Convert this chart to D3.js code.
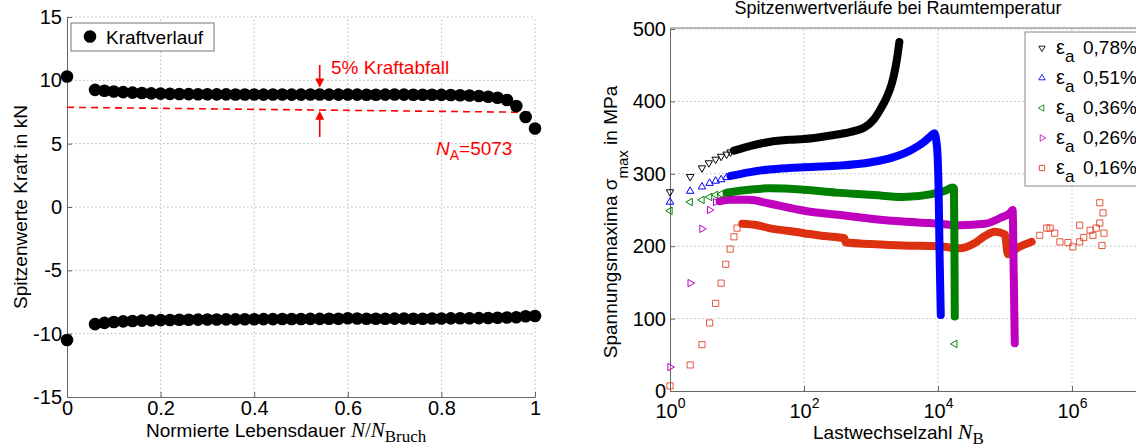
<!DOCTYPE html>
<html>
<head>
<meta charset="utf-8">
<script src="https://cdn.jsdelivr.net/npm/d3@7"></script>
<style>
  body { margin: 0; background: #fff; }
  svg { display: block; font-family: "Liberation Sans", Arial, sans-serif; }
  .axis path, .axis line { stroke: #666; }
  .axis text { font-size: 20px; fill: #000; font-family: "Liberation Sans", Arial, sans-serif; }
  .grid line { stroke: #b8b8b8; stroke-dasharray: 1.5,2.5; }
</style>
</head>
<body>
<div id="chart"></div>
<script>
// Left: peak forces over normalised life
const forceX = [0, 0.06, 0.08, 0.10, 0.12, 0.14, 0.16, 0.18, 0.20, 0.22, 0.24, 0.26, 0.28, 0.30, 0.32, 0.34,
  0.36, 0.38, 0.40, 0.42, 0.44, 0.46, 0.48, 0.50, 0.52, 0.54, 0.56, 0.58, 0.60, 0.62, 0.64, 0.66,
  0.68, 0.70, 0.72, 0.74, 0.76, 0.78, 0.80, 0.82, 0.84, 0.86, 0.88, 0.90, 0.92, 0.94, 0.96, 0.98, 1.00];
const forceMax = [10.3, 9.25, 9.18, 9.12, 9.07, 9.03, 9.0, 8.97, 8.95, 8.93, 8.92, 8.91, 8.9, 8.9, 8.89, 8.89,
  8.88, 8.88, 8.88, 8.87, 8.88, 8.88, 8.87, 8.87, 8.88, 8.88, 8.87, 8.87, 8.88, 8.87, 8.86, 8.86,
  8.87, 8.88, 8.87, 8.86, 8.86, 8.86, 8.85, 8.84, 8.82, 8.8, 8.76, 8.7, 8.62, 8.45, 7.97, 7.1, 6.2];
const forceMin = [-10.5, -9.25, -9.15, -9.08, -9.03, -9.0, -8.97, -8.95, -8.93, -8.92, -8.9, -8.9, -8.89, -8.88, -8.88, -8.87,
  -8.87, -8.86, -8.86, -8.85, -8.85, -8.84, -8.84, -8.84, -8.83, -8.83, -8.82, -8.82, -8.78, -8.8, -8.82, -8.82,
  -8.82, -8.81, -8.8, -8.82, -8.82, -8.8, -8.8, -8.79, -8.78, -8.78, -8.77, -8.76, -8.74, -8.72, -8.7, -8.62, -8.6];
const dropLineX = [0, 1];
const dropLineY = [7.87, 7.47];
const arrowX = 0.54;
const leftXTicks = [0, 0.2, 0.4, 0.6, 0.8, 1];
const leftYTicks = [-15, -10, -5, 0, 5, 10, 15];

// Right: stress peaks vs cycles (sparse markers + dense bands)
const blackN = [1, 2, 3, 3.8, 4.8, 5.8, 7, 8];
const blackS = [275, 296, 308, 315, 320, 324, 327, 330];
const blackBandN = [9, 15, 30, 60, 100, 250, 500, 800, 1100, 1400, 1700, 2050, 2300, 2500, 2650];
const blackBandS = [332, 338, 344, 347, 348, 353, 358, 364, 375, 390, 405, 425, 445, 465, 482];

const blueN = [1, 2, 3, 3.9, 4.8, 5.8, 7];
const blueS = [261, 276, 282, 287, 290, 292, 295];
const blueBandN = [8, 15, 30, 60, 100, 300, 1000, 2000, 4000, 6000, 8000, 8800, 9600, 10200, 10600, 11000];
const blueBandS = [297, 302, 306, 308, 309, 311, 316, 322, 333, 343, 353, 356, 340, 280, 180, 105];

const greenN = [1, 2, 3, 3.9, 4.8, 5.8, 17800];
const greenS = [249, 261, 264, 268, 271, 272, 65];
const greenBandN = [7, 15, 30, 100, 300, 1000, 3000, 8000, 13000, 16500, 17300, 17600, 17800];
const greenBandS = [274, 278, 280, 278, 274, 271, 268, 272, 277, 281, 280, 200, 103];

const magentaN = [1, 2, 3, 3.9, 4.8];
const magentaS = [33, 149, 224, 250, 261];
const magentaBandN = [5.5, 8, 15, 30, 100, 350, 1000, 3000, 7600, 21000, 50000, 90000, 120000, 130000, 135000, 140000];
const magentaBandS = [262, 264, 264, 259, 249, 243, 238, 234, 232, 229, 231, 240, 246, 250, 160, 66];

const redN = [1, 2, 3, 3.9, 4.8, 5.8, 6.8, 7.9, 9, 10,
  330000, 420000, 470000, 550000, 660000, 870000, 1030000, 1300000, 1300000, 1500000,
  1860000, 2050000, 2300000, 2600000, 2600000, 2900000, 3000000, 2800000];
const redS = [7, 36, 64, 94, 121, 149, 175, 196, 213, 225,
  215, 225, 225, 218, 206, 205, 199, 206, 229, 212,
  222, 215, 225, 232, 260, 246, 218, 201];
const redBandN = [12, 20, 30, 60, 100, 200, 400, 420, 1000, 3000, 10000, 21000, 35000, 50000, 70000,
  100000, 110000, 150000, 250000];
const redBandS = [231, 229, 225, 221, 218, 214, 211, 205, 203, 201, 200, 197, 204, 214, 220,
  216, 189, 197, 206];

const seriesNames = ["0,78%", "0,51%", "0,36%", "0,26%", "0,16%"];
const seriesColors = ["#000000", "#0000ff", "#008000", "#bf00bf", "#dd3010"];
const seriesMarkers = ["down", "up", "left", "right", "square"];
const rightYTicks = [0, 100, 200, 300, 400, 500];
const rightXTicks = [1, 100, 10000, 1000000];

const W = 1136, H = 447;
const svg = d3.select("#chart").append("svg").attr("width", W).attr("height", H);
svg.append("rect").attr("width", W).attr("height", H).attr("fill", "#fff");

// ---------- left panel ----------
const xL = d3.scaleLinear().domain([0, 1]).range([67, 535]);
const yL = d3.scaleLinear().domain([-15, 15]).range([397, 17]);

const gL = svg.append("g");
gL.append("g").attr("class", "grid")
  .selectAll("line.v").data(leftXTicks.slice(1)).join("line")
  .attr("x1", d => xL(d)).attr("x2", d => xL(d)).attr("y1", yL(-15)).attr("y2", yL(15));
gL.append("g").attr("class", "grid")
  .selectAll("line.h").data(leftYTicks.slice(1)).join("line")
  .attr("x1", xL(0)).attr("x2", xL(1)).attr("y1", d => yL(d)).attr("y2", d => yL(d));

gL.append("g").attr("class", "axis")
  .attr("transform", `translate(0,${yL(-15)})`)
  .call(d3.axisBottom(xL).tickValues(leftXTicks).tickFormat(d => String(d)).tickSizeInner(-5).tickSizeOuter(0).tickPadding(4));
gL.append("g").attr("class", "axis")
  .attr("transform", `translate(${xL(0)},0)`)
  .call(d3.axisLeft(yL).tickValues(leftYTicks).tickFormat(d => String(d)).tickSizeInner(-5).tickSizeOuter(0).tickPadding(5));

// threshold line
gL.append("line")
  .attr("x1", xL(dropLineX[0])).attr("y1", yL(dropLineY[0]))
  .attr("x2", xL(dropLineX[1])).attr("y2", yL(dropLineY[1]))
  .attr("stroke", "#ff0000").attr("stroke-width", 1.6).attr("stroke-dasharray", "7,5");

// force dots
const forcePts = forceX.map((x, i) => ({ x, y: forceMax[i] }))
  .concat(forceX.map((x, i) => ({ x, y: forceMin[i] })));
gL.append("g").selectAll("circle").data(forcePts).join("circle")
  .attr("cx", d => xL(d.x)).attr("cy", d => yL(d.y)).attr("r", 6.3).attr("fill", "#000");

// arrows
const ax = xL(arrowX);
function arrow(y0, y1) {
  const dir = y1 > y0 ? 1 : -1;
  gL.append("line").attr("x1", ax).attr("x2", ax).attr("y1", y0).attr("y2", y1 - dir * 6)
    .attr("stroke", "#ff0000").attr("stroke-width", 1.6);
  gL.append("path")
    .attr("d", `M${ax},${y1} L${ax - 4.5},${y1 - dir * 9} L${ax + 4.5},${y1 - dir * 9} Z`)
    .attr("fill", "#ff0000");
}
arrow(65, yL(forceMax[24]) - 7);
arrow(137, yL(7.68) + 1);

gL.append("text").attr("x", 331).attr("y", 74).attr("fill", "#ff0000")
  .attr("font-size", 19).text("5% Kraftabfall");
const na = gL.append("text").attr("x", 436).attr("y", 155).attr("fill", "#ff0000").attr("font-size", 19);
na.append("tspan").attr("font-style", "italic").text("N");
na.append("tspan").attr("font-size", 14).attr("dy", 5).text("A");
na.append("tspan").attr("dy", -5).text("=5073");

// legend
gL.append("rect").attr("x", 71).attr("y", 23).attr("width", 143).attr("height", 28)
  .attr("fill", "#fff").attr("stroke", "#777");
gL.append("circle").attr("cx", 90).attr("cy", 36.5).attr("r", 6.3).attr("fill", "#000");
gL.append("text").attr("x", 106).attr("y", 43.5).attr("font-size", 19).text("Kraftverlauf");

// labels
gL.append("text").attr("transform", "translate(27,207) rotate(-90)").attr("text-anchor", "middle")
  .attr("font-size", 19).text("Spitzenwerte Kraft in kN");
const xlabL = gL.append("text").attr("x", 146).attr("y", 437).attr("font-size", 19);
xlabL.append("tspan").text("Normierte Lebensdauer ");
xlabL.append("tspan").attr("font-family", "'Liberation Serif', 'DejaVu Serif', serif").attr("font-style", "italic").attr("font-size", 21).text("N");
xlabL.append("tspan").attr("font-family", "'Liberation Serif', 'DejaVu Serif', serif").attr("font-size", 21).text("/");
xlabL.append("tspan").attr("font-family", "'Liberation Serif', 'DejaVu Serif', serif").attr("font-style", "italic").attr("font-size", 21).text("N");
xlabL.append("tspan").attr("font-family", "'Liberation Serif', 'DejaVu Serif', serif").attr("font-size", 17).attr("dy", 5).text("Bruch");

// ---------- right panel ----------
const xR = d3.scaleLog().domain([1, 1e7]).range([670, 1139]);
const yR = d3.scaleLinear().domain([0, 500]).range([391, 29]);

const gR = svg.append("g");
gR.append("g").attr("class", "grid")
  .selectAll("line").data(rightXTicks.slice(1)).join("line")
  .attr("x1", d => xR(d)).attr("x2", d => xR(d)).attr("y1", yR(0)).attr("y2", yR(500));
gR.append("g").attr("class", "grid")
  .selectAll("line").data(rightYTicks.slice(1)).join("line")
  .attr("x1", xR(1)).attr("x2", xR(1e7)).attr("y1", d => yR(d)).attr("y2", d => yR(d));

gR.append("line").attr("x1", xR(1)).attr("x2", xR(1e7)).attr("y1", yR(500) - 1).attr("y2", yR(500) - 1)
  .attr("stroke", "#777");

const xAxisR = gR.append("g").attr("class", "axis")
  .attr("transform", `translate(0,${yR(0)})`)
  .call(d3.axisBottom(xR).tickValues(rightXTicks).tickFormat(() => "").tickSizeInner(-5).tickSizeOuter(0).tickPadding(6));
xAxisR.selectAll(".tick text").each(function (d) {
  const t = d3.select(this).attr("dy", "1.05em");
  t.append("tspan").text("10");
  t.append("tspan").attr("font-size", 14).attr("dy", "-0.75em").text(Math.round(Math.log10(d)));
});
gR.append("g").attr("class", "axis")
  .attr("transform", `translate(${xR(1)},0)`)
  .call(d3.axisLeft(yR).tickValues(rightYTicks).tickSizeInner(-5).tickSizeOuter(0).tickPadding(4));

const sparse = [[blackN, blackS], [blueN, blueS], [greenN, greenS], [magentaN, magentaS], [redN, redS]];
const bands = [[blackBandN, blackBandS], [blueBandN, blueBandS], [greenBandN, greenBandS],
  [magentaBandN, magentaBandS], [redBandN, redBandS]];

const bandLine = d3.line().x(d => xR(d[0])).y(d => yR(d[1])).curve(d3.curveMonotoneX);

function marker(kind) {
  if (kind === "square") return d3.symbol().type(d3.symbolSquare).size(38)();
  return d3.symbol().type(d3.symbolTriangle).size(24)();
}
const rot = { up: 0, down: 180, left: -90, right: 90, square: 0 };

// draw in reverse so black is on top
[4, 3, 2, 1, 0].forEach(i => {
  const pts = bands[i][0].map((n, j) => [n, bands[i][1][j]]);
  gR.append("path").datum(pts).attr("d", bandLine)
    .attr("fill", "none").attr("stroke", seriesColors[i]).attr("stroke-width", 8)
    .attr("stroke-linejoin", "round").attr("stroke-linecap", "round");
  const sp = sparse[i][0].map((n, j) => [n, sparse[i][1][j]]);
  gR.append("g").selectAll("path").data(sp).join("path")
    .attr("d", marker(seriesMarkers[i]))
    .attr("transform", d => `translate(${xR(d[0])},${yR(d[1])}) rotate(${rot[seriesMarkers[i]]})`)
    .attr("fill", "none").attr("stroke", seriesColors[i]).attr("stroke-width", 1)
    .attr("opacity", i === 4 ? 0.8 : 1);
});

// legend
const lg = gR.append("g");
lg.append("rect").attr("x", 1025).attr("y", 32).attr("width", 130).attr("height", 154)
  .attr("fill", "#fff").attr("stroke", "#888");
seriesNames.forEach((name, i) => {
  const y = 48 + i * 30;
  lg.append("path").attr("d", marker(seriesMarkers[i]))
    .attr("transform", `translate(1042,${y}) rotate(${rot[seriesMarkers[i]]}) scale(0.85)`)
    .attr("fill", "none").attr("stroke", seriesColors[i]);
  const t = lg.append("text").attr("x", 1056).attr("y", y + 6).attr("font-size", 20);
  t.append("tspan").text("ε");
  t.append("tspan").attr("font-size", 17).attr("dy", 8).text("a");
  lg.append("text").attr("x", 1083).attr("y", y + 6).attr("font-size", 19).text(name);
});

// labels
const ylabR = gR.append("text").attr("transform", "translate(617,222) rotate(-90)")
  .attr("text-anchor", "middle").attr("font-size", 19);
ylabR.append("tspan").text("Spannungsmaxima σ");
ylabR.append("tspan").attr("font-size", 15).attr("dy", 11).text("max");
ylabR.append("tspan").attr("dy", -11).text(" in MPa");

const xlabR = gR.append("text").attr("x", 813).attr("y", 439).attr("font-size", 19);
xlabR.append("tspan").text("Lastwechselzahl ");
xlabR.append("tspan").attr("font-family", "'Liberation Serif', 'DejaVu Serif', serif").attr("font-style", "italic").attr("font-size", 22).text("N");
xlabR.append("tspan").attr("font-family", "'Liberation Serif', 'DejaVu Serif', serif").attr("font-size", 17).attr("dy", 5).text("B");

gR.append("text").attr("x", 898).attr("y", 14).attr("text-anchor", "middle").attr("font-size", 18)
  .text("Spitzenwertverläufe bei Raumtemperatur");
</script>
</body>
</html>
